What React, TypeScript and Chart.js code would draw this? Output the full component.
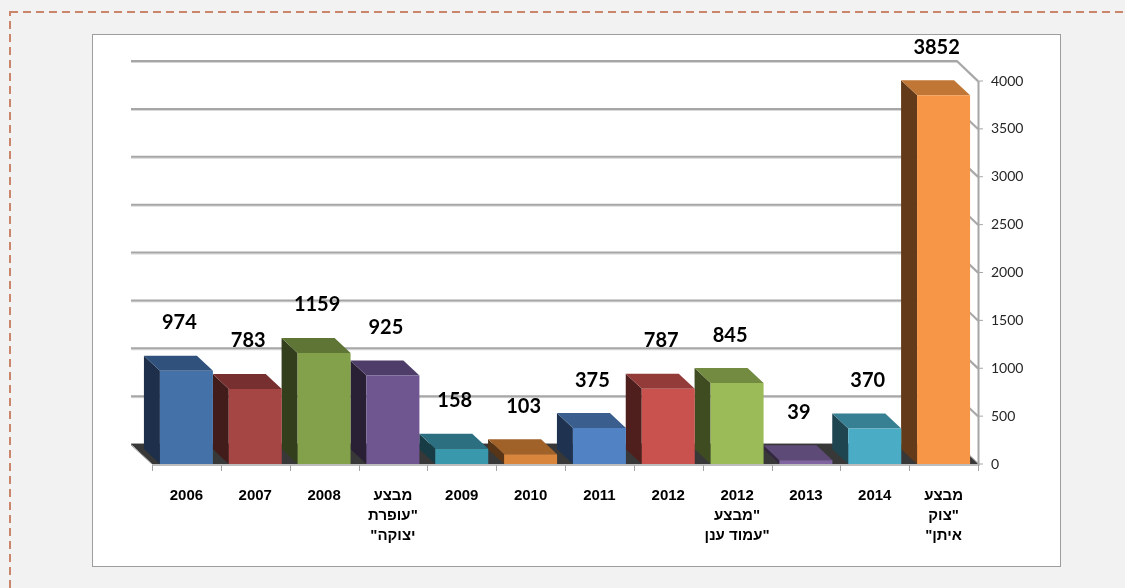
import React, { useEffect, useRef } from 'react';
import { Chart, registerables } from 'chart.js';

Chart.register(...registerables);

// ---- data ----
const categories: (string | string[])[] = [
  '2006',
  '2007',
  '2008',
  ['מבצע', '"עופרת', 'יצוקה"'],
  '2009',
  '2010',
  '2011',
  '2012',
  ['2012', '"מבצע', '"עמוד ענן'],
  '2013',
  '2014',
  ['מבצע', '"צוק', 'איתן"'],
];
const values = [974, 783, 1159, 925, 158, 103, 375, 787, 845, 39, 370, 3852];
const frontColors = ['#4472a8', '#a54644', '#83a14a', '#6f5691', '#3a98ad', '#d9853b', '#5182c4', '#c9524f', '#9bbb59', '#8064a2', '#4bacc6', '#f79646'];
const sideColors = ['#1d2f4a', '#421b1b', '#333f1c', '#2a2036', '#173c45', '#573516', '#1f3350', '#4f1f1e', '#3f4c22', '#33283f', '#1f4550', '#633b1a'];
const topColors = ['#30517c', '#772f2f', '#5f7535', '#4f3d69', '#2b6f80', '#a1622a', '#3a5f8f', '#923b39', '#738a41', '#5e4a77', '#377f92', '#c07634'];
const yMin = 0;
const yMax = 4000;
const yStep = 500;

// depth of the 3D projection
const BAR_DX = 16;
const BAR_DY = 15;
const WALL_DX = 21;
const WALL_DY = 20;

const threeD = {
  id: 'threeD',
  beforeDatasetsDraw(chart: any) {
    const { ctx, chartArea, scales } = chart;
    const y = scales.y;
    const L = chartArea.left;
    const R = chartArea.right;
    ctx.save();
    // back wall gridlines + side diagonal
    for (const t of y.ticks) {
      const yf = y.getPixelForValue(t.value);
      const yb = yf - WALL_DY;
      ctx.beginPath();
      ctx.moveTo(L - WALL_DX, yb + 1.5);
      ctx.lineTo(R - WALL_DX, yb + 1.5);
      ctx.lineTo(R, yf + 1.5);
      ctx.strokeStyle = '#d4d4d4';
      ctx.lineWidth = 1;
      ctx.stroke();
      ctx.beginPath();
      ctx.moveTo(L - WALL_DX, yb);
      ctx.lineTo(R - WALL_DX, yb);
      ctx.lineTo(R, yf);
      ctx.strokeStyle = '#a6a6a6';
      ctx.lineWidth = 2;
      ctx.stroke();
    }
    // floor
    const y0 = y.getPixelForValue(0);
    ctx.beginPath();
    ctx.moveTo(L - WALL_DX, y0 - WALL_DY);
    ctx.lineTo(R - WALL_DX, y0 - WALL_DY);
    ctx.lineTo(R, y0);
    ctx.lineTo(L, y0);
    ctx.closePath();
    ctx.fillStyle = '#383838';
    ctx.fill();
    ctx.beginPath();
    ctx.moveTo(L - WALL_DX, y0 - WALL_DY + 1);
    ctx.lineTo(L, y0);
    ctx.strokeStyle = '#9a9a9a';
    ctx.lineWidth = 1;
    ctx.stroke();
    // right axis line
    ctx.beginPath();
    ctx.moveTo(R + 0.5, y.getPixelForValue(yMax));
    ctx.lineTo(R + 0.5, y0 + 2);
    ctx.strokeStyle = '#a6a6a6';
    ctx.lineWidth = 2;
    ctx.stroke();
    for (const t of y.ticks) {
      const yf = y.getPixelForValue(t.value);
      ctx.beginPath();
      ctx.moveTo(R, yf);
      ctx.lineTo(R + 5, yf);
      ctx.lineWidth = 1;
      ctx.stroke();
    }
    // bar sides and tops
    const meta = chart.getDatasetMeta(0);
    meta.data.forEach((bar: any, i: number) => {
      const p = bar.getProps(['x', 'y', 'base', 'width'], true);
      const xl = p.x - p.width / 2;
      const xr = p.x + p.width / 2;
      const top = p.y;
      const base = p.base;
      // side face
      ctx.beginPath();
      ctx.moveTo(xl, top);
      ctx.lineTo(xl - BAR_DX, top - BAR_DY);
      ctx.lineTo(xl - BAR_DX, base - BAR_DY);
      ctx.lineTo(xl, base);
      ctx.closePath();
      ctx.fillStyle = sideColors[i];
      ctx.fill();
      // top face
      ctx.beginPath();
      ctx.moveTo(xl, top);
      ctx.lineTo(xr, top);
      ctx.lineTo(xr - BAR_DX, top - BAR_DY);
      ctx.lineTo(xl - BAR_DX, top - BAR_DY);
      ctx.closePath();
      ctx.fillStyle = topColors[i];
      ctx.fill();
    });
    ctx.restore();
  },
  afterDatasetsDraw(chart: any) {
    const { ctx, chartArea, scales } = chart;
    const x = scales.x;
    const y = scales.y;
    const y0 = y.getPixelForValue(0);
    ctx.save();
    // front x axis line
    ctx.beginPath();
    ctx.moveTo(chartArea.left, y0 + 1);
    ctx.lineTo(chartArea.right, y0 + 1);
    ctx.strokeStyle = '#bdbdbd';
    ctx.lineWidth = 2;
    ctx.stroke();
    for (let i = 0; i <= categories.length; i++) {
      const px = Math.round(x.getPixelForValue(i - 0.5)) + 0.5;
      ctx.beginPath();
      ctx.moveTo(px, y0 + 1);
      ctx.lineTo(px, y0 + 7);
      ctx.strokeStyle = '#a6a6a6';
      ctx.lineWidth = 1;
      ctx.stroke();
    }
    // data labels
    ctx.font = 'bold 20px Lato';
    ctx.fillStyle = '#000';
    ctx.textAlign = 'center';
    ctx.textBaseline = 'middle';
    const meta = chart.getDatasetMeta(0);
    meta.data.forEach((bar: any, i: number) => {
      const p = bar.getProps(['x', 'y'], true);
      ctx.fillText(String(values[i]), p.x - 7, p.y - 48);
    });
    ctx.restore();
  },
};

export default function App() {
  const canvasRef = useRef<HTMLCanvasElement | null>(null);

  useEffect(() => {
    const canvas = canvasRef.current;
    if (!canvas) return;
    const chart = new Chart(canvas, {
      type: 'bar',
      data: {
        labels: categories,
        datasets: [
          {
            data: values,
            backgroundColor: frontColors,
            borderWidth: 0,
            barPercentage: 0.77,
            categoryPercentage: 1,
          },
        ],
      },
      options: {
        animation: false,
        responsive: false,
        devicePixelRatio: 1,
        events: [],
        layout: { padding: { left: 152, top: 81, right: 0, bottom: 0 } },
        plugins: {
          legend: { display: false },
          tooltip: { enabled: false },
          title: { display: false },
        },
        scales: {
          x: {
            type: 'category',
            offset: true,
            grid: { display: false, drawTicks: false },
            border: { display: false },
            ticks: {
              autoSkip: false,
              maxRotation: 0,
              minRotation: 0,
              padding: 22,
              color: '#000',
              font: { family: '"Liberation Sans", Arial, sans-serif', size: 15, weight: 'bold', lineHeight: 1.33 },
            },
            afterFit: (s: any) => {
              s.height = 124;
            },
          },
          y: {
            position: 'right',
            min: yMin,
            max: yMax,
            grid: { display: false, drawTicks: false },
            border: { display: false },
            ticks: {
              stepSize: yStep,
              padding: 13,
              color: '#262626',
              font: { family: 'Lato, sans-serif', size: 14 },
              callback: (v: any) => String(v),
            },
            afterFit: (s: any) => {
              s.width = 147;
            },
          },
        },
      },
      plugins: [threeD],
    });
    return () => chart.destroy();
  }, []);

  return (
    <div
      style={{
        position: 'fixed',
        left: 0,
        top: 0,
        width: 1125,
        height: 588,
        background: '#f2f2f2',
        overflow: 'hidden',
      }}
    >
      <svg width={1125} height={588} style={{ position: 'absolute', left: 0, top: 0 }}>
        <rect x={10} y={12} width={1200} height={700} fill="none" stroke="#c9866b" strokeWidth={2} strokeDasharray="8 5" />
      </svg>
      <div
        style={{
          position: 'absolute',
          left: 92,
          top: 34,
          width: 969,
          height: 533,
          background: '#ffffff',
          border: '1px solid #9d9d9d',
          boxSizing: 'border-box',
        }}
      />
      <canvas
        ref={canvasRef}
        width={1125}
        height={588}
        dir="rtl"
        style={{ position: 'absolute', left: 0, top: 0, width: 1125, height: 588, direction: 'rtl' }}
      />
    </div>
  );
}
